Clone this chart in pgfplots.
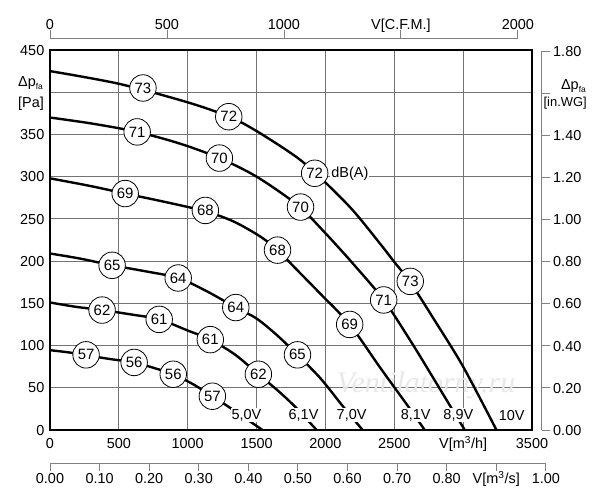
\documentclass[border=0pt]{standalone}
\usepackage{fontspec}
\setmainfont{Liberation Sans}
\newfontfamily\wmfont{Liberation Serif}
\usepackage{pgfplots}
\pgfplotsset{compat=1.18}
\newcommand\fs{\fontsize{14.5}{17}\selectfont}
\newcommand\fc{\fontsize{15}{17}\selectfont}
\newcommand\sub[1]{\raisebox{-0.35ex}{\fontsize{8.5}{9}\selectfont #1}}
\pgfplotsset{
  sec/.style={scale only axis, axis line style={-, black!50, line width=0.9bp},
    tick style={black!50, line width=0.9bp}, tick align=outside,
    ticklabel style={font=\fs, inner sep=0pt, text height=10.4bp, text depth=0pt},
    /pgf/number format/assume math mode=true},
}
\begin{document}
\begin{tikzpicture}[x=1bp,y=1bp]
\useasboundingbox (0,0) rectangle (600,500);

% bottom m3/s axis
\begin{axis}[sec, at={(50bp,36.7bp)}, anchor=south west, width=495.8bp, height=2bp,
  xmin=0, xmax=1, ymin=0, ymax=1, hide y axis, axis x line*=bottom,
  major tick length=7.5bp,
  xtick={0,0.1,0.2,0.3,0.4,0.5,0.6,0.7,0.8,0.9,1.0},
  xticklabels={0.00,0.10,0.20,0.30,0.40,0.50,0.60,0.70,0.80,{V[m\textsuperscript{3}/s]},1.00},
  xticklabel shift=2bp]
\end{axis}

% top CFM axis
\begin{axis}[sec, at={(50bp,461.5bp)}, anchor=north west, width=467.9bp, height=2bp,
  xmin=0, xmax=2000, ymin=0, ymax=1, hide y axis, axis x line*=top,
  major tick length=8bp,
  xtick={0,500,1000,1500,2000},
  xticklabels={0,500,1000,V[C.F.M.],2000},
  xticklabel shift=1bp]
\end{axis}

% right in.WG axis
\begin{axis}[sec, at={(541.5bp,70bp)}, anchor=south east, width=2bp, height=378.6bp,
  xmin=0, xmax=1, ymin=0, ymax=1.8, hide x axis, axis y line*=right,
  major tick length=8bp,
  ytick={0,0.2,0.4,0.6,0.8,1.0,1.2,1.4,1.6,1.8},
  yticklabels={0.00,0.20,0.40,0.60,0.80,1.00,1.20,1.40,,1.80},
  yticklabel shift=3.5bp]
\end{axis}

% main axis
\begin{axis}[at={(50bp,70bp)}, anchor=south west, scale only axis, width=482bp, height=380bp,
  xmin=0, xmax=3500, ymin=0, ymax=450,
  xtick={0,500,1000,1500,2000,2500,3000,3500},
  ytick={0,50,100,150,200,250,300,350,400,450},
  xticklabels={0,500,1000,1500,2000,2500,{V[m\textsuperscript{3}/h]},3500},
  yticklabels={0,50,100,150,200,250,300,350,,450},
  grid=major, major grid style={black!55, line width=0.8bp},
  axis line style={line width=2bp, black},
  major tick length=0pt, tick style={draw=none},
  ticklabel style={font=\fs, inner sep=0pt, text height=10.4bp, text depth=0pt},
  xticklabel shift=8bp, yticklabel shift=5.5bp,
  /pgf/number format/assume math mode=true]

\node[font=\wmfont\itshape\fontsize{30}{32}\selectfont, text=black!9, anchor=center] at (axis cs:2730,53) {Ventilatorny.ru};

% 10V
\addplot[line width=2.4bp, smooth] coordinates {
(0,425)(500,410)(1000,388)(1300,371)(1500,354)(1800,322)(2000,293)(2200,260)(2400,220)(2500,199)(2616,175)(2800,128)(3000,75)(3242,0)};
% 8.9V
\addplot[line width=2.4bp, smooth] coordinates {
(0,370)(300,363)(633,353)(946,339)(1230,322)(1500,300)(1800,266)(2000,233)(2200,197)(2423,154)(2620,105)(2800,57)(2911,27)(3012,0)};
% 8.1V
\addplot[line width=2.4bp, smooth] coordinates {
(0,298)(291,289)(546,280)(837,270)(1128,259)(1332,247)(1528,229)(1652,213)(1797,189)(1965,161)(2176,125)(2401,73)(2605,27)(2721,0)};
% 7.0V
\addplot[line width=2.4bp, smooth] coordinates {
(0,209)(218,203)(451,195)(691,188)(931,180)(1142,164)(1349,145)(1500,132)(1650,112)(1797,89)(1965,61)(2132,27)(2270,0)};
% 6.1V
\addplot[line width=2.4bp, smooth] coordinates {
(0,151)(182,146)(378,142)(582,137)(793,131)(997,118)(1164,107)(1346,89)(1513,66)(1659,46)(1783,27)(1936,0)};
% 5.0V
\addplot[line width=2.4bp, smooth] coordinates {
(0,94.5)(131,92)(262,88.6)(437,84)(611,80)(764,73)(895,66)(1041,54)(1179,40)(1310,26)(1543,0)};

% voltage labels
\addplot[draw=none, mark=none, nodes near coords, point meta=explicit symbolic,
  every node near coord/.append style={anchor=center, fill=white, inner sep=1bp, font=\fs, text=black}]
  table[meta=l] {
x y l
1426 17.7 {5,0V}
1841 17.7 {6,1V}
2190 17.7 {7,0V}
2656 17.7 {8,1V}
2965 17.7 {8,9V}
3352 17.7 {10V}
};

% dB(A) circles
\addplot[draw=none, mark=none, nodes near coords, point meta=explicit symbolic,
  every node near coord/.append style={anchor=center, circle, draw=black, line width=0.8bp, fill=white, minimum size=26.5bp, inner sep=0pt, font=\fc, text=black}]
  table[meta=l] {
x y l
675 405 73
1298 371 72
1922 304 72
2616 176 73
633 353 71
1230 322 70
1819 264 70
2423 154 71
546 280 69
1128 260 68
1652 213 68
2176 125 69
451 195 65
931 180 64
1349 145 64
1797 89 65
378 142 62
793 131 61
1164 107 61
1513 66 62
262 89 57
611 80 56
895 66 56
1179 40 57
};

\node[anchor=west, fill=white, inner sep=1bp, font=\fs, xshift=15.5bp] at (axis cs:1922,304) {dB(A)};
\end{axis}

% axis titles
\node[anchor=west, font=\fs, inner sep=0pt] at (18bp,417bp) {Δp\sub{fa}};
\node[anchor=west, font=\fs, inner sep=0pt] at (18bp,396bp) {[Pa]};
\node[anchor=east, font=\fs, inner sep=0pt] at (586bp,414bp) {Δp\sub{fa}};
\node[anchor=east, font=\fontsize{13}{15}\selectfont, inner sep=0pt] at (587bp,397bp) {[in.WG]};
\end{tikzpicture}
\end{document}
